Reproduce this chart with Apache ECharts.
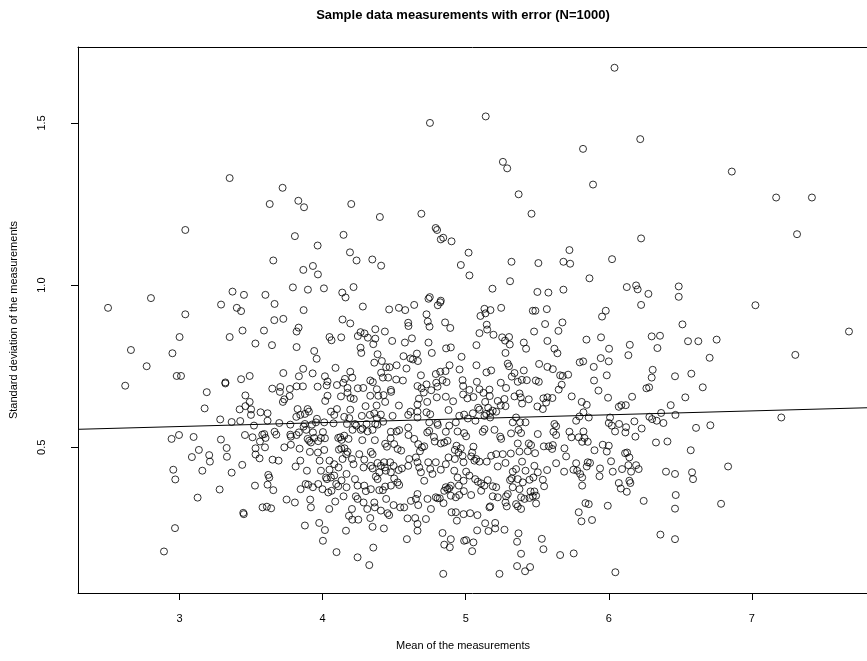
<!DOCTYPE html>
<html>
<head>
<meta charset="utf-8">
<script src="https://cdn.jsdelivr.net/npm/echarts@6/dist/echarts.min.js"></script>
<style>
  html, body { margin: 0; padding: 0; background: #fff; }
  #chart { width: 867px; height: 661px; }
</style>
</head>
<body>
<div id="chart"></div>
<script>
// Mean (x) and standard deviation (y) of each sample, grouped by area of the cloud.
const highSpread = [
  [3.35,1.33],[4.75,1.50],[3.72,1.30],[3.63,1.25],[3.83,1.26],[3.87,1.24],[4.20,1.25],[4.40,1.21],
  [4.69,1.22],[4.79,1.176],[4.80,1.170],[6.04,1.67],[5.14,1.52],[6.22,1.45],[5.82,1.42],[5.26,1.38],
  [5.29,1.36],[5.89,1.31],[5.37,1.28],[5.46,1.22],[6.86,1.35],[7.17,1.27],[7.42,1.27]
];
const lowMeans = [
  [3.04,1.17],[3.37,0.98],[3.45,0.97],[3.60,0.97],[2.80,0.96],[2.50,0.93],[3.29,0.94],[3.40,0.93],
  [3.43,0.92],[3.04,0.91],[3.44,0.86],[3.59,0.86],[3.00,0.84],[3.35,0.84],[3.53,0.82],[2.66,0.80],
  [2.95,0.79],[2.77,0.75],[2.98,0.72],[3.01,0.72],[3.43,0.71],[3.49,0.72],[2.62,0.69],[3.32,0.70],
  [3.32,0.697],[3.19,0.67],[3.46,0.66],[3.49,0.64],[3.46,0.627],[3.175,0.62],[3.42,0.617],[3.50,0.617],
  [3.566,0.608],[3.499,0.600],[3.284,0.586],[3.364,0.578],[3.424,0.581],[3.520,0.567],[2.944,0.526],
  [2.996,0.538],[3.098,0.532],[3.289,0.524],[3.457,0.538],[3.510,0.531],[3.578,0.539],[3.562,0.518],
  [3.135,0.492],[3.086,0.470],[3.207,0.476],[3.212,0.456],[3.329,0.498],[3.331,0.471],[3.531,0.497],
  [3.531,0.478],[3.559,0.466],[2.956,0.431],[2.970,0.401],[3.159,0.428],[3.364,0.422],[3.438,0.446],
  [3.280,0.370],[3.527,0.382],[3.126,0.345],[3.445,0.298],[3.449,0.294],[3.58,0.315],[3.61,0.317],
  [3.64,0.312],[2.968,0.251],[2.891,0.179]
];
const highMeans = [
  [7.316,1.157],[6.489,0.996],[6.489,0.964],[7.025,0.938],[6.515,0.879],[6.554,0.827],[6.626,0.827],
  [6.754,0.832],[7.679,0.857],[6.705,0.776],[7.304,0.785],[6.463,0.719],[6.577,0.727],[6.657,0.685],
  [6.535,0.654],[6.433,0.630],[6.466,0.600],[7.206,0.592],[6.610,0.560],[6.710,0.568],[6.41,0.518],
  [6.573,0.491],[6.834,0.441],[6.40,0.425],[6.463,0.418],[6.582,0.423],[6.589,0.402],[6.468,0.353],
  [6.463,0.311],[6.785,0.326],[6.463,0.217]
];
const centreLeftUpper = [
  [3.806,1.151],[4.146,1.155],[3.965,1.122],[3.655,1.076],[4.191,1.101],[4.237,1.076],[4.347,1.079],
  [4.409,1.060],[3.865,1.047],[3.932,1.059],[3.967,1.033],[3.792,0.993],[3.897,0.986],[4.009,0.990],
  [4.216,0.994],[4.137,0.977],[4.160,0.962],[3.664,0.942],[3.867,0.923],[4.281,0.934],[3.662,0.892],
  [3.725,0.896],[4.139,0.894],[4.193,0.882],[3.832,0.869],[3.818,0.857],[4.048,0.840],[4.062,0.830],
  [4.130,0.839],[4.246,0.843],[4.265,0.855],[4.293,0.851],[4.368,0.864],[4.316,0.838],[4.435,0.857],
  [3.646,0.815],[3.818,0.809],[4.354,0.818],[4.368,0.835],[4.486,0.828],[4.265,0.807],[4.270,0.791],
  [3.941,0.797],[3.958,0.773],[4.384,0.787],[4.361,0.761],[4.414,0.766],[3.725,0.729],[3.834,0.719],
  [3.864,0.742],[3.930,0.728],[4.090,0.745],[4.016,0.719],[4.193,0.733],[4.034,0.703],[4.156,0.711],
  [4.207,0.715],[3.648,0.681],[3.704,0.686],[3.701,0.671],[3.771,0.680],[3.818,0.688],[3.862,0.688],
  [3.965,0.687],[4.028,0.691],[4.100,0.692],[4.144,0.699],[4.174,0.683],[4.246,0.682],[4.284,0.683],
  [4.333,0.706],[4.351,0.701],[4.379,0.679],[4.409,0.730],[4.421,0.715],[4.444,0.747],[4.468,0.747],
  [4.458,0.715],[4.477,0.677],[4.517,0.753],[4.514,0.709],[4.561,0.706],[4.586,0.743],[4.565,0.781],
  [4.614,0.774],[4.631,0.771],[4.659,0.789],[4.666,0.766],[4.575,0.823],[4.624,0.836],[4.465,0.925],
  [4.533,0.930],[4.577,0.923],[4.640,0.939],[4.598,0.884],[4.600,0.874],[4.740,0.958],[4.749,0.963],
  [4.805,0.938],[4.822,0.947],[4.826,0.952],[4.726,0.910],[4.735,0.888],[4.747,0.872],[4.856,0.885],
  [4.892,0.868],[4.740,0.823],[4.863,0.805],[4.896,0.808],[4.763,0.791],[4.966,1.062],[4.826,1.141],
  [4.843,1.146],[4.901,1.135],[5.02,1.10],[4.971,0.779],[4.822,0.733],[4.859,0.735],[4.887,0.753],
  [4.957,0.740],[4.687,0.722],[4.791,0.726],[4.866,0.701],[4.978,0.707],[4.982,0.689],[4.663,0.689],
  [4.691,0.682],[4.726,0.694],[4.759,0.676],[4.794,0.699],[4.803,0.687],[4.838,0.707],[4.673,0.650],
  [4.731,0.640],[4.798,0.654],[4.861,0.656],[4.912,0.642],[4.982,0.663],[4.663,0.632],[3.722,0.640],
  [3.732,0.648],[3.769,0.658],[4.018,0.643],[4.034,0.659],[4.128,0.657],[4.174,0.668],[4.195,0.652],
  [4.218,0.649],[4.333,0.659],[4.389,0.659],[4.426,0.661],[4.479,0.671],[4.533,0.629],[4.437,0.640],
  [4.377,0.629],[4.300,0.627],[4.707,0.669]
];
const centreRightUpper = [
  [5.026,1.030],[6.226,1.144],[5.725,1.108],[5.320,1.072],[5.508,1.068],[5.683,1.072],[5.730,1.066],
  [6.023,1.080],[5.310,1.012],[5.865,1.021],[5.187,0.989],[5.501,0.979],[5.578,0.977],[5.683,0.986],
  [6.126,0.994],[6.191,0.999],[6.202,0.987],[6.277,0.973],[6.226,0.939],[5.131,0.927],[5.173,0.923],
  [5.103,0.905],[5.138,0.913],[5.248,0.930],[5.469,0.921],[5.487,0.921],[5.567,0.926],[5.953,0.903],
  [5.979,0.921],[5.147,0.878],[5.150,0.863],[5.096,0.852],[5.194,0.847],[5.555,0.880],[5.676,0.885],
  [5.478,0.857],[5.648,0.859],[5.075,0.815],[5.255,0.839],[5.303,0.840],[5.275,0.829],[5.308,0.817],
  [5.406,0.823],[5.422,0.804],[5.571,0.828],[5.620,0.804],[5.641,0.790],[5.844,0.832],[5.946,0.839],
  [6.002,0.804],[6.147,0.816],[6.300,0.842],[6.358,0.844],[6.340,0.806],[6.137,0.784],[5.278,0.791],
  [5.075,0.753],[5.145,0.731],[5.178,0.737],[5.294,0.758],[5.303,0.750],[5.341,0.729],[5.322,0.718],
  [5.406,0.737],[5.513,0.757],[5.571,0.748],[5.609,0.741],[5.660,0.722],[5.678,0.720],[5.716,0.724],
  [5.797,0.762],[5.821,0.765],[5.895,0.748],[5.944,0.775],[6.000,0.765],[5.986,0.722],[5.897,0.706],
  [6.307,0.739],[6.300,0.715],[6.282,0.685],[6.263,0.682],[5.078,0.702],[5.245,0.699],[5.282,0.683],
  [5.364,0.702],[5.392,0.708],[5.427,0.707],[5.490,0.706],[5.511,0.702],[5.671,0.693],[5.650,0.678],
  [5.928,0.675],[5.995,0.653],[6.163,0.656],[5.741,0.657],[5.026,0.677],[5.012,0.651],[5.054,0.655],
  [5.096,0.679],[5.124,0.668],[5.166,0.678],[5.168,0.658],[5.136,0.640],[5.224,0.643],[5.271,0.649],
  [5.245,0.629],[5.341,0.657],[5.376,0.666],[5.385,0.654],[5.394,0.635],[5.441,0.648],[5.543,0.651],
  [5.571,0.654],[5.606,0.652],[5.562,0.638],[5.501,0.626],[5.811,0.640],[5.846,0.631],[6.088,0.630],
  [6.119,0.630],[6.070,0.625],[5.087,0.622],[5.157,0.622],[5.278,0.627]
];
const centreLeftLower = [
  [3.615,0.605],[3.615,0.582],[3.697,0.575],[3.774,0.570],[3.816,0.594],[3.844,0.600],[3.876,0.603],
  [3.904,0.610],[3.825,0.618],[3.895,0.618],[3.960,0.588],[3.953,0.577],[4.058,0.610],[4.081,0.600],
  [4.100,0.618],[4.151,0.594],[4.186,0.590],[4.193,0.616],[4.226,0.572],[4.274,0.597],[4.330,0.600],
  [4.361,0.605],[4.379,0.590],[4.407,0.601],[4.489,0.597],[4.423,0.579],[4.368,0.572],[4.307,0.572],
  [4.279,0.558],[4.235,0.567],[4.170,0.572],[4.076,0.574],[4.011,0.577],[4.614,0.610],[4.598,0.600],
  [4.663,0.610],[4.663,0.592],[4.726,0.608],[4.752,0.602],[4.745,0.577],[4.801,0.575],[4.805,0.569],
  [4.880,0.615],[4.955,0.597],[4.989,0.601],[4.931,0.577],[4.885,0.567],
  [3.592,0.541],[3.664,0.548],[3.676,0.539],[3.774,0.539],[3.778,0.533],[3.818,0.538],[3.834,0.546],
  [3.867,0.564],[3.876,0.572],[3.885,0.554],[3.925,0.570],[3.932,0.546],[4.002,0.547],[4.016,0.528],
  [3.988,0.529],[3.895,0.526],[3.906,0.520],[3.918,0.515],[3.969,0.519],[3.941,0.529],[3.732,0.500],
  [3.778,0.508],[3.839,0.496],[3.911,0.486],[3.967,0.484],[4.011,0.492],[4.109,0.529],[4.123,0.531],
  [4.132,0.523],[4.151,0.536],[4.181,0.526],[4.130,0.497],[4.114,0.493],[4.153,0.497],[4.174,0.486],
  [4.277,0.522],[4.365,0.522],[4.209,0.554],[4.267,0.554],[4.314,0.549],[4.349,0.554],[4.384,0.570],
  [4.477,0.548],[4.517,0.549],[4.535,0.553],[4.475,0.528],[4.437,0.511],[4.449,0.502],[4.500,0.510],
  [4.524,0.495],[4.549,0.490],[4.598,0.561],[4.600,0.538],[4.640,0.526],[4.668,0.510],[4.694,0.500],
  [4.680,0.488],[4.710,0.503],[4.731,0.546],[4.745,0.551],[4.778,0.532],[4.784,0.518],[4.826,0.512],
  [4.850,0.515],[4.873,0.520],[4.936,0.505],[4.924,0.492],[4.966,0.497],[4.989,0.544],[4.943,0.549],
  [4.861,0.548],[3.597,0.500],[3.601,0.529],
  [3.650,0.462],[3.692,0.459],[3.620,0.415],[3.627,0.407],[3.615,0.385],[3.655,0.368],[3.811,0.441],
  [3.890,0.428],[3.844,0.459],[3.846,0.371],[3.881,0.387],[3.899,0.385],[3.932,0.377],[3.979,0.459],
  [3.988,0.428],[4.048,0.459],[4.081,0.448],[4.048,0.431],[4.111,0.438],[4.139,0.464],[4.165,0.479],
  [4.205,0.464],[4.216,0.448],[4.256,0.479],[4.291,0.462],[4.286,0.438],[4.337,0.486],[4.349,0.479],
  [4.337,0.443],[4.349,0.435],[4.384,0.452],[4.396,0.423],[4.372,0.410],[4.384,0.402],[4.407,0.443],
  [4.430,0.454],[4.435,0.438],[4.472,0.454],[4.496,0.443],[4.531,0.430],[4.554,0.435],[4.442,0.428],
  [4.477,0.423],[4.500,0.404],[4.524,0.392],[4.535,0.384],[4.598,0.443],[4.605,0.464],[4.652,0.469],
  [4.663,0.454],[4.675,0.438],[4.687,0.423],[4.738,0.454],[4.752,0.433],[4.710,0.397],[4.768,0.418],
  [4.791,0.454],[4.826,0.431],[4.861,0.448],[4.880,0.469],[4.924,0.464],[4.950,0.484],[4.978,0.474],
  [4.985,0.454],[4.920,0.428],[4.943,0.407],[4.985,0.397],[4.873,0.371],[4.861,0.377],[4.885,0.374],
  [4.850,0.366],[4.896,0.382],[4.952,0.382],[4.030,0.402],[4.023,0.407],[4.058,0.407],[4.081,0.413],
  [4.095,0.387],[4.039,0.361],[4.062,0.366],[4.109,0.380],[4.167,0.418],[4.226,0.402],[4.244,0.382],
  [4.291,0.382],[4.302,0.365],[4.337,0.371],[4.396,0.368],[4.421,0.368],[4.437,0.379],[4.477,0.382],
  [4.132,0.398],[4.167,0.377],[3.999,0.371],[3.969,0.387],[3.748,0.339],[3.806,0.330],[3.913,0.339],
  [3.918,0.315],[4.046,0.310],[4.088,0.333],[4.146,0.349],[4.205,0.310],[4.232,0.349],[4.244,0.341],
  [4.286,0.330],[4.312,0.310],[4.361,0.330],[4.365,0.315],[4.407,0.305],[4.444,0.341],[4.454,0.297],
  [4.465,0.291],[4.496,0.322],[4.542,0.315],[4.570,0.315],[4.617,0.335],[4.652,0.341],[4.663,0.356],
  [4.668,0.322],[4.733,0.341],[4.757,0.310],[4.791,0.346],[4.803,0.343],[4.819,0.343],[4.845,0.328],
  [4.896,0.351],[4.931,0.346],[4.955,0.353],[4.987,0.365],
  [3.876,0.259],[3.976,0.267],[4.016,0.245],[4.002,0.212],[4.097,0.177],[4.163,0.243],[4.184,0.289],
  [4.207,0.277],[4.249,0.277],[4.333,0.282],[4.349,0.255],[4.428,0.250],[4.354,0.191],[4.244,0.161],
  [4.326,0.137],[4.593,0.281],[4.647,0.282],[4.663,0.264],[4.663,0.243],[4.722,0.279],[4.589,0.217],
  [4.838,0.236],[4.896,0.217],[4.850,0.200],[4.889,0.192],[4.989,0.212],[4.843,0.110],[4.931,0.300],
  [4.901,0.300],[4.938,0.274],[4.985,0.294]
];
const centreRightLower = [
  [5.015,0.589],[5.050,0.605],[5.068,0.582],[5.096,0.616],[5.131,0.597],[5.143,0.603],[5.171,0.606],
  [5.189,0.613],[5.213,0.610],[5.171,0.592],[5.131,0.556],[5.119,0.548],[5.201,0.554],[5.241,0.533],
  [5.248,0.526],[5.317,0.543],[5.352,0.592],[5.329,0.577],[5.380,0.577],[5.418,0.577],[5.369,0.554],
  [5.387,0.544],[5.504,0.541],[5.539,0.618],[5.620,0.572],[5.632,0.565],[5.613,0.548],[5.632,0.538],
  [5.725,0.548],[5.739,0.531],[5.772,0.582],[5.790,0.531],[5.814,0.517],[5.823,0.549],[5.823,0.608],
  [5.795,0.595],[5.860,0.592],[5.830,0.529],[5.853,0.517],[5.900,0.491],[5.958,0.508],[6.000,0.505],
  [6.009,0.592],[6.000,0.575],[6.021,0.567],[6.044,0.549],[6.072,0.572],[6.121,0.562],[6.116,0.546],
  [6.179,0.580],[6.230,0.558],[6.186,0.533],[6.284,0.594],[6.303,0.587],[6.335,0.582],[6.382,0.575],
  [6.366,0.606],[6.330,0.515],[5.003,0.534],
  [5.054,0.502],[5.045,0.484],[5.038,0.472],[5.061,0.459],[5.096,0.456],[5.073,0.464],[5.147,0.456],
  [5.178,0.474],[5.213,0.479],[5.224,0.441],[5.259,0.479],[5.278,0.452],[5.315,0.481],[5.364,0.512],
  [5.376,0.487],[5.394,0.456],[5.441,0.512],[5.457,0.507],[5.434,0.488],[5.485,0.482],[5.546,0.503],
  [5.581,0.503],[5.604,0.495],[5.609,0.507],[5.690,0.497],[5.702,0.472],[5.632,0.451],[5.688,0.425],
  [5.772,0.451],[5.753,0.431],[5.779,0.428],[5.800,0.418],[5.814,0.407],[5.853,0.454],[5.869,0.452],
  [5.846,0.441],[5.939,0.435],[5.935,0.411],[5.986,0.487],[6.016,0.457],[6.028,0.425],[6.093,0.433],
  [6.114,0.482],[6.128,0.484],[6.144,0.469],[6.137,0.445],[6.191,0.445],[6.209,0.433],[6.156,0.425],
  [6.144,0.397],[6.151,0.390],[6.070,0.390],[6.084,0.373],[6.126,0.363],[5.814,0.382],[5.003,0.425],
  [5.026,0.413],[5.066,0.402],[5.085,0.394],[5.108,0.389],[5.108,0.366],[5.131,0.382],[5.038,0.353],
  [5.189,0.380],[5.213,0.377],[5.189,0.349],[5.224,0.346],[5.282,0.349],[5.287,0.318],[5.278,0.330],
  [5.329,0.425],[5.352,0.433],[5.364,0.402],[5.399,0.392],[5.446,0.400],[5.473,0.407],[5.480,0.443],
  [5.504,0.423],[5.539,0.400],[5.548,0.380],[5.569,0.430],[5.322,0.404],[5.310,0.399],[5.329,0.377],
  [5.376,0.371],[5.418,0.428],[5.352,0.325],[5.364,0.318],[5.387,0.310],[5.387,0.346],[5.411,0.341],
  [5.446,0.344],[5.469,0.349],[5.492,0.351],[5.492,0.327],[5.453,0.364],[5.480,0.364],[5.171,0.318],
  [5.166,0.315],[5.294,0.356],[5.154,0.399],
  [5.031,0.297],[5.082,0.291],[5.136,0.266],[5.080,0.244],[5.206,0.267],[5.206,0.250],[5.159,0.242],
  [5.271,0.246],[5.369,0.235],[5.003,0.214],[5.054,0.207],[5.045,0.180],[5.359,0.209],[5.387,0.172],
  [5.532,0.218],[5.543,0.186],[5.660,0.168],[5.755,0.173],[5.790,0.300],[5.809,0.272],[5.837,0.328],
  [5.860,0.325],[5.883,0.276],[5.993,0.320],[6.244,0.335],[6.361,0.231],[5.236,0.110],[5.359,0.134],
  [5.415,0.118],[5.450,0.131],[6.046,0.115]
];

// Least-squares line of sd on mean
const fitIntercept = 0.528;
const fitSlope = 0.01204;

// Axis ranges and tick labels (the plot region runs on past the right edge of the page)
const xRange = [2.29, 7.805];
const yRange = [0.051, 1.734];
const xTicks = [3, 4, 5, 6, 7];
const yTicks = [0.5, 1.0, 1.5];

const points = [].concat(highSpread, lowMeans, highMeans, centreLeftUpper,
  centreRightUpper, centreLeftLower, centreRightLower);

const fitLine = xRange.map(x => [x, fitIntercept + fitSlope * x]);

const FONT = '"Liberation Sans", Arial, Helvetica, sans-serif';
const AXIS_LINE = { show: true, onZero: false, lineStyle: { color: '#000', width: 1 } };

const chart = echarts.init(document.getElementById('chart'), null, { renderer: 'canvas' });

chart.setOption({
  animation: false,
  backgroundColor: '#fff',
  grid: { left: 78, top: 47, right: 0, bottom: 68, show: false },
  xAxis: [
    {
      type: 'value', position: 'bottom', min: xRange[0], max: xRange[1],
      splitLine: { show: false },
      axisLine: AXIS_LINE,
      axisTick: { show: true, length: 7, inside: false, customValues: xTicks, lineStyle: { color: '#000' } },
      axisLabel: { show: true, customValues: xTicks, margin: 20, color: '#000', fontSize: 11, fontFamily: FONT,
        formatter: v => String(v) }
    },
    {
      // top edge of the plot frame
      type: 'value', position: 'top', min: xRange[0], max: xRange[1],
      splitLine: { show: false }, axisLine: AXIS_LINE,
      axisTick: { show: false }, axisLabel: { show: false }
    }
  ],
  yAxis: {
    type: 'value', min: yRange[0], max: yRange[1],
    splitLine: { show: false },
    axisLine: AXIS_LINE,
    axisTick: { show: true, length: 7, inside: false, customValues: yTicks, lineStyle: { color: '#000' } },
    axisLabel: { show: true, customValues: yTicks, rotate: 90, margin: 31, color: '#000', fontSize: 11,
      fontFamily: FONT, formatter: v => Number(v).toFixed(1) }
  },
  graphic: [
    { type: 'text', x: 463, y: 15, silent: true,
      style: { text: 'Sample data measurements with error (N=1000)', fill: '#000',
        font: 'bold 13px ' + FONT, textAlign: 'center', textVerticalAlign: 'middle' } },
    { type: 'text', x: 463, y: 646, silent: true,
      style: { text: 'Mean of the measurements', fill: '#000',
        font: '11px ' + FONT, textAlign: 'center', textVerticalAlign: 'middle' } },
    { type: 'text', x: 14, y: 320, rotation: Math.PI / 2, silent: true,
      style: { text: 'Standard deviation of the measurements', fill: '#000',
        font: '11px ' + FONT, textAlign: 'center', textVerticalAlign: 'middle' } }
  ],
  series: [
    {
      type: 'scatter',
      xAxisIndex: 0,
      data: points,
      symbol: 'circle',
      symbolSize: 7,
      silent: true,
      itemStyle: { color: 'transparent', borderColor: '#000', borderWidth: 1 }
    },
    {
      type: 'line',
      xAxisIndex: 0,
      data: fitLine,
      showSymbol: false,
      silent: true,
      clip: true,
      lineStyle: { color: '#000', width: 1 }
    }
  ]
});
</script>
</body>
</html>
